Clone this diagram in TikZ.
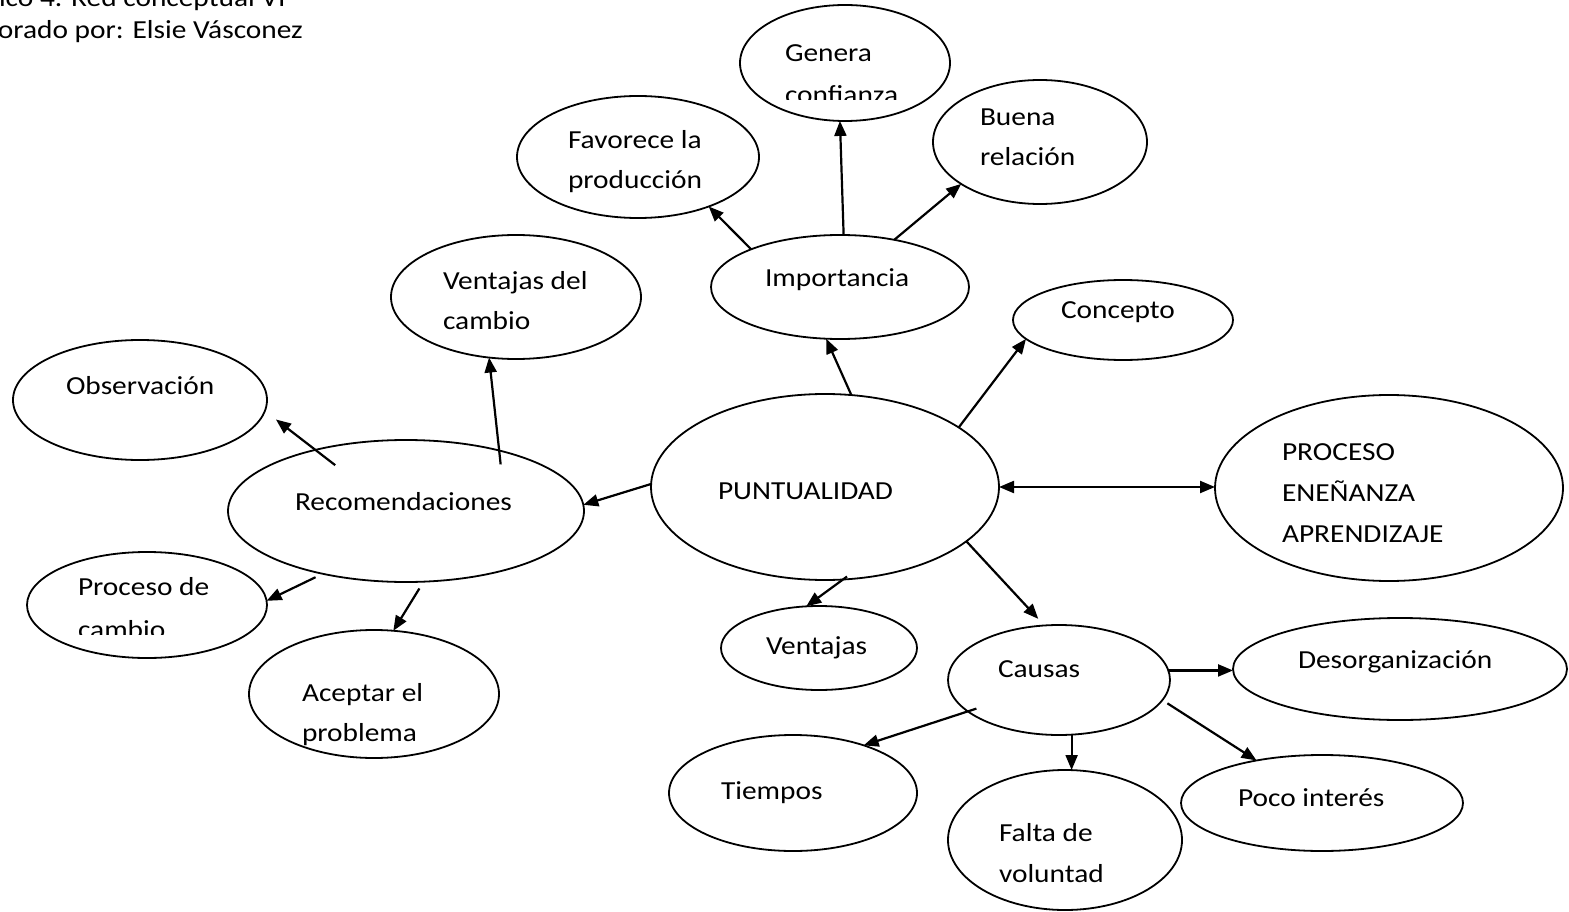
\documentclass[tikz,border=0pt]{standalone}
\usepackage{fontspec}
\setmainfont{Carlito}
\usetikzlibrary{shapes.geometric,arrows.meta}
\newcommand{\wtxt}[1]{\scalebox{1.13}[1]{#1}}
\begin{document}
\begin{tikzpicture}[x=1pt,y=-1pt,
  el/.style={draw=black,line width=1.8pt,ellipse,inner sep=0pt,outer sep=0pt},
  txt/.style={inner sep=0pt,outer sep=0pt,anchor=base west,font=\fontsize{26}{31}\selectfont},
  arr/.style={line width=2.2pt,-{Triangle[length=15pt,width=12pt]}},
  arrb/.style={line width=2.2pt,{Triangle[length=15pt,width=12pt]}-{Triangle[length=15pt,width=12pt]}}]
\useasboundingbox (0,0) rectangle (1569,912);
% title
\node[txt] (t1) at (-1,7) {\wtxt{ico 4. Red conceptual VI}};
\node[txt] (t2) at (-2,39) {\wtxt{orado por: Elsie Vásconez}};
% ellipses
\node[el,minimum width=210pt,minimum height=116pt] (gen) at (845,63) {};
\node[el,minimum width=214pt,minimum height=124pt] (bue) at (1040,142) {};
\node[el,minimum width=242pt,minimum height=122pt] (fav) at (638,157) {};
\node[el,minimum width=258pt,minimum height=104pt] (imp) at (840,287) {};
\node[el,minimum width=250pt,minimum height=124pt] (vdc) at (516,297) {};
\node[el,minimum width=220pt,minimum height=80pt] (con) at (1123,320) {};
\node[el,minimum width=254pt,minimum height=120pt] (obs) at (140,400) {};
\node[el,minimum width=348pt,minimum height=186pt] (pun) at (825,487) {};
\node[el,minimum width=348pt,minimum height=186pt] (pro) at (1389,488) {};
\node[el,minimum width=356pt,minimum height=142pt] (rec) at (406,511) {};
\node[el,minimum width=240pt,minimum height=106pt] (pdc) at (147,605) {};
\node[el,minimum width=250pt,minimum height=128pt] (acp) at (374,694) {};
\node[el,minimum width=196pt,minimum height=84pt] (ven) at (819,648) {};
\node[el,minimum width=222pt,minimum height=110pt] (cau) at (1059,680) {};
\node[el,minimum width=334pt,minimum height=102pt] (des) at (1400,669) {};
\node[el,minimum width=248pt,minimum height=116pt] (tie) at (793,793) {};
\node[el,minimum width=234pt,minimum height=140pt] (fal) at (1065,840) {};
\node[el,minimum width=282pt,minimum height=96pt] (poc) at (1322,803) {};
% texts
\node[txt] (genA) at (785,62) {\wtxt{Genera}};
\begin{scope}
\clip (700,0) rectangle (1000,100);
\node[txt] (genB) at (785,104) {\wtxt{confianza}};
\end{scope}
\node[txt] (bueA) at (980,126) {\wtxt{Buena}};
\node[txt] (bueB) at (980,166) {\wtxt{relación}};
\node[txt] (favA) at (568,149) {\wtxt{Favorece la}};
\node[txt] (favB) at (568,189) {\wtxt{producción}};
\node[txt] (impA) at (765,286) {\wtxt{Importancia}};
\node[txt] (vdcA) at (443,289) {\wtxt{Ventajas del}};
\node[txt] (vdcB) at (443,329) {\wtxt{cambio}};
\node[txt] (conA) at (1061,318) {\wtxt{Concepto}};
\node[txt] (obsA) at (66,394) {\wtxt{Observación}};
\node[txt] (punA) at (718,499) {\wtxt{PUNTUALIDAD}};
\node[txt] (proA) at (1282,460) {\wtxt{PROCESO}};
\node[txt] (proB) at (1282,501) {\wtxt{ENEÑANZA}};
\node[txt] (proC) at (1282,542) {\wtxt{APRENDIZAJE}};
\node[txt] (recA) at (295,510) {\wtxt{Recomendaciones}};
\node[txt] (pdcA) at (78,595) {\wtxt{Proceso de}};
\begin{scope}
\clip (0,600) rectangle (300,634);
\node[txt] (pdcB) at (78,638) {\wtxt{cambio}};
\end{scope}
\node[txt] (acpA) at (302,701) {\wtxt{Aceptar el}};
\node[txt] (acpB) at (302,741) {\wtxt{problema}};
\node[txt] (venA) at (766,654) {\wtxt{Ventajas}};
\node[txt] (cauA) at (998,677) {\wtxt{Causas}};
\node[txt] (desA) at (1298,668) {\wtxt{Desorganización}};
\node[txt] (tieA) at (721,799) {\wtxt{Tiempos}};
\node[txt] (falA) at (999,841) {\wtxt{Falta de}};
\node[txt] (falB) at (999,882) {\wtxt{voluntad}};
\node[txt] (pocA) at (1238,806) {\wtxt{Poco interés}};
% connectors
\draw[arr] (imp.86) -- (gen.265);
\draw[arr] (imp.41) -- (bue.208);
\draw[arr] (imp.157) -- (fav.325);
\draw[arr] (pun.74) -- (imp.255);
\draw[arr] (pun.24) -- (con.191);
\draw[arrb] (pun.east) -- (pun.east -| pro.west);
\draw[arr] (pun.179) -- (rec.2);
\draw[arr,shorten <=-5pt] (pun.281) -- (ven.107);
\draw[arr,shorten >=9pt] (pun.339) -- (cau.105);
\draw[arr,shorten <=-14pt] (rec.33) -- (vdc.246);
\draw[arr,shorten <=-25pt,shorten >=14pt] (rec.146) -- (obs.355);
\draw[arr,shorten <=8pt] (rec.217) -- (pdc.2);
\draw[arr,shorten <=8pt] (rec.284) -- (acp.73);
\draw[arr] (cau.5) -- (cau.5 -| des.west);
\draw[arr,shorten <=-9pt] (cau.199) -- (tie.34);
\draw[arr] (cau.283) -- (cau.283 |- fal.north);
\draw[arr,shorten <=6pt] (cau.349) -- (poc.147);
\end{tikzpicture}
\end{document}
